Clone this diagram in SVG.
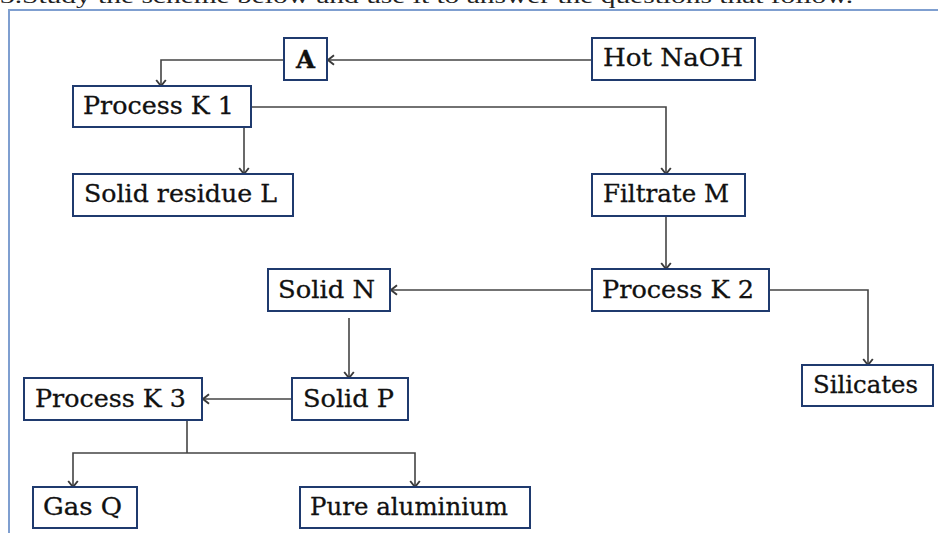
<svg xmlns="http://www.w3.org/2000/svg" width="938" height="533" viewBox="0 0 938 533">
<defs>
<marker id="arr" markerUnits="userSpaceOnUse" markerWidth="12" markerHeight="12" refX="9" refY="5" orient="auto" viewBox="0 0 10 10">
<path d="M4,1 L9,5 L4,9" fill="none" stroke="#3a3a3a" stroke-width="1.6"/>
</marker>
<style>
.box{fill:#fff;stroke:#1f3a6e;stroke-width:2}
.t{font-family:"DejaVu Serif","Liberation Serif",serif;font-size:24.5px;fill:#111;stroke:#111;stroke-width:0.3}
.c{fill:none;stroke:#444;stroke-width:1.6}
.frame{fill:none;stroke:#7f9fd0;stroke-width:2}
</style>
</defs>
<rect width="938" height="533" fill="#fff"/>
<text x="0" y="3" font-family="Liberation Serif, serif" font-size="22" fill="#222" textLength="853" lengthAdjust="spacingAndGlyphs">3.Study the scheme below and use it to answer the questions that follow.</text>
<path class="frame" d="M9,533 V10 H938"/>
<g id="connectors">
<path class="c" d="M592,60 H328" marker-end="url(#arr)"/>
<path class="c" d="M284,60 H161 V86" marker-end="url(#arr)"/>
<path class="c" d="M244,127 V174" marker-end="url(#arr)"/>
<path class="c" d="M251,107 H666 V174" marker-end="url(#arr)"/>
<path class="c" d="M666,216 V269" marker-end="url(#arr)"/>
<path class="c" d="M592,290 H391" marker-end="url(#arr)"/>
<path class="c" d="M769,290 H868 V365" marker-end="url(#arr)"/>
<path class="c" d="M349,318 V378" marker-end="url(#arr)"/>
<path class="c" d="M292,399 H203" marker-end="url(#arr)"/>
<path class="c" d="M187,420 V453"/>
<path class="c" d="M187,453 H73 V487" marker-end="url(#arr)"/>
<path class="c" d="M187,453 H415 V487" marker-end="url(#arr)"/>
</g>
<g id="A"><rect class="box" x="284" y="38" width="43" height="42"/><text class="t" x="305.5" y="68" text-anchor="middle" font-weight="bold">A</text></g>
<g id="hotNaOH"><rect class="box" x="592" y="38" width="163" height="42"/><text class="t" x="603" y="66" textLength="140" lengthAdjust="spacingAndGlyphs">Hot NaOH</text></g>
<g id="processK1"><rect class="box" x="73" y="86" width="178" height="41"/><text class="t" x="83" y="114" textLength="151" lengthAdjust="spacingAndGlyphs">Process K 1</text></g>
<g id="solidResidueL"><rect class="box" x="73" y="174" width="220" height="42"/><text class="t" x="84" y="202" textLength="193" lengthAdjust="spacingAndGlyphs">Solid residue L</text></g>
<g id="filtrateM"><rect class="box" x="592" y="174" width="153" height="42"/><text class="t" x="603" y="202" textLength="126" lengthAdjust="spacingAndGlyphs">Filtrate M</text></g>
<g id="processK2"><rect class="box" x="592" y="269" width="177" height="42"/><text class="t" x="602" y="298" textLength="152" lengthAdjust="spacingAndGlyphs">Process K 2</text></g>
<g id="solidN"><rect class="box" x="268" y="269" width="122" height="42"/><text class="t" x="278" y="298" textLength="97" lengthAdjust="spacingAndGlyphs">Solid N</text></g>
<g id="silicates"><rect class="box" x="802" y="365" width="131" height="41"/><text class="t" x="813" y="393" textLength="105" lengthAdjust="spacingAndGlyphs">Silicates</text></g>
<g id="solidP"><rect class="box" x="292" y="378" width="116" height="42"/><text class="t" x="303" y="407" textLength="91" lengthAdjust="spacingAndGlyphs">Solid P</text></g>
<g id="processK3"><rect class="box" x="24" y="378" width="178" height="42"/><text class="t" x="35" y="407" textLength="151" lengthAdjust="spacingAndGlyphs">Process K 3</text></g>
<g id="gasQ"><rect class="box" x="33" y="487" width="104" height="41"/><text class="t" x="43" y="515" textLength="79" lengthAdjust="spacingAndGlyphs">Gas Q</text></g>
<g id="pureAluminium"><rect class="box" x="300" y="487" width="230" height="41"/><text class="t" x="310" y="515" textLength="198" lengthAdjust="spacingAndGlyphs">Pure aluminium</text></g>
</svg>
